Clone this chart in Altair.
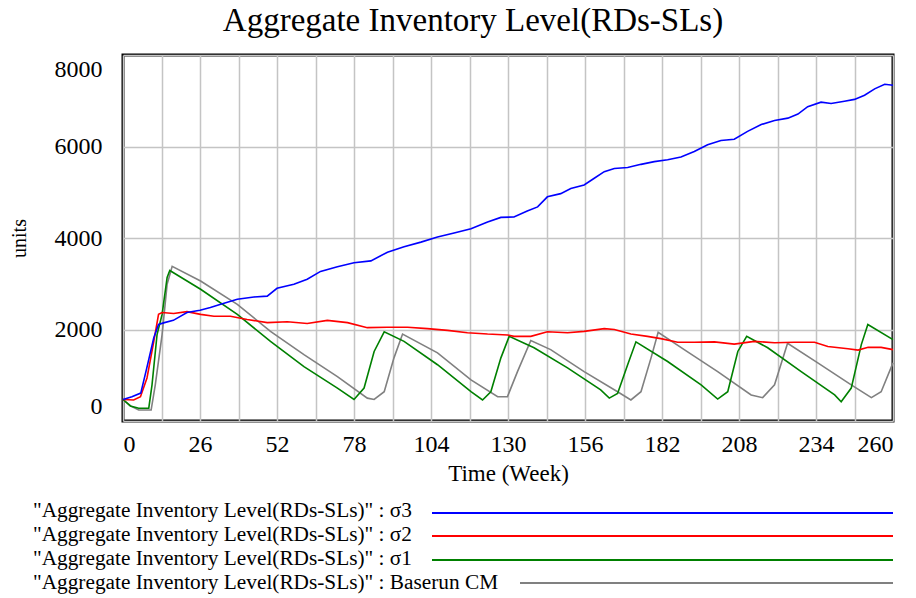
import altair as alt
import pandas as pd

# ---------------- data ----------------
chart_title = "Aggregate Inventory Level(RDs-SLs)"
series_names = ["σ3", "σ2", "σ1", "Baserun CM"]
series_colors = ["#0000ff", "#ff0000", "#008000", "#808080"]
legend_labels = ['"Aggregate Inventory Level(RDs-SLs)" : ' + s for s in series_names]

s3_week = [0, 3, 6, 8, 10.4, 12, 14, 17, 21.6, 26, 29.5, 33, 38.6, 44.2, 48.7, 52, 57.7, 62.2, 66.7, 72.4,
           78, 83.7, 89.3, 94.9, 100.6, 106.2, 111.8, 117.5, 123.1, 127.6, 132, 136.5, 140, 143.3, 147.8,
           151.2, 155.7, 159, 162.5, 165.9, 170.4, 174.9, 179.4, 183.9, 188.4, 192.9, 197.4, 201.9, 206.4,
           210.9, 215.5, 220, 224.5, 227.9, 231.2, 235.7, 239.1, 243.6, 247, 250.4, 253.8, 257.2, 260]
s3_units = [470, 530, 610, 1150, 1820, 2110, 2150, 2200, 2370, 2420, 2480, 2550, 2660, 2710, 2730, 2900,
            2990, 3100, 3270, 3370, 3460, 3500, 3690, 3810, 3910, 4020, 4110, 4200, 4350, 4450, 4460, 4590,
            4680, 4900, 4970, 5080, 5160, 5300, 5450, 5520, 5540, 5610, 5670, 5710, 5770, 5890, 6040, 6130,
            6160, 6330, 6480, 6570, 6620, 6710, 6870, 6970, 6940, 6990, 7030, 7120, 7260, 7360, 7340]

s2_week = [0, 3.6, 5.9, 8.1, 10.4, 12, 13.2, 17.1, 21.6, 26.2, 30.7, 36.3, 41.9, 48.7, 55.5, 62.2, 69, 75.8,
           82.5, 89.3, 96.1, 102.8, 109.6, 116.3, 123.1, 129.9, 132, 137.7, 143.3, 150.1, 155.7, 162.5,
           165.9, 171.5, 177.1, 181.6, 187.3, 192.9, 199.7, 206.4, 213.2, 220, 226.7, 233.5, 238, 244.8,
           248.2, 251.6, 256, 260]
s2_units = [470, 460, 530, 940, 1740, 2330, 2370, 2350, 2390, 2330, 2290, 2290, 2220, 2150, 2170, 2130,
            2200, 2150, 2040, 2050, 2050, 2020, 1980, 1930, 1900, 1880, 1850, 1850, 1950, 1930, 1960, 2020,
            2000, 1900, 1850, 1800, 1720, 1720, 1730, 1680, 1740, 1710, 1720, 1720, 1630, 1580, 1550, 1610,
            1610, 1560]

s1_week = [0, 2.5, 5.3, 8.7, 9.8, 11.5, 13.2, 14.9, 15.8, 26.2, 38.6, 49.8, 61.1, 72.4, 78, 81.4, 84.8,
           88.2, 94.9, 106.2, 117.5, 121.4, 124.2, 127.6, 130.4, 138.8, 150.1, 161.3, 164.2, 167, 170.4,
           173.2, 183.9, 195.2, 200.8, 204.2, 207.6, 210.6, 217.7, 229, 240.3, 242.5, 245.9, 249.3, 251.5, 260]
s1_units = [470, 330, 280, 280, 790, 1890, 2330, 3140, 3290, 2880, 2330, 1740, 1190, 720, 470, 720, 1520,
            1950, 1740, 1230, 640, 460, 640, 1380, 1850, 1600, 1160, 680, 500, 600, 1230, 1730, 1300, 790,
            480, 640, 1520, 1850, 1600, 1080, 570, 420, 720, 1670, 2110, 1780]

base_week = [0, 2.5, 5.3, 9.5, 10.9, 13.2, 14.9, 16.6, 26.2, 38.6, 49.8, 61.1, 72.4, 82.5, 84.8, 88.2,
             91.5, 94.4, 106.2, 117.5, 126.5, 129.8, 133.2, 137.7, 144.4, 155.7, 167, 171.5, 174.9, 178.3,
             180.7, 189.5, 200.8, 212.1, 216, 220, 224.4, 234.6, 245.9, 252.7, 256, 260]
base_units = [470, 330, 240, 240, 790, 1890, 2990, 3380, 3060, 2550, 1960, 1450, 970, 500, 470, 640, 1380,
              1900, 1490, 900, 530, 530, 1080, 1760, 1560, 1080, 640, 460, 640, 1380, 1940, 1560, 1080,
              570, 510, 790, 1700, 1270, 790, 510, 640, 1270]

x_grid_ticks = list(range(0, 261, 13))
y_ticks = [0, 2000, 4000, 6000, 8000]

# ---------------- build table ----------------
frames = []
for name, wk, un in [("Baserun CM", base_week, base_units), ("σ1", s1_week, s1_units),
                     ("σ2", s2_week, s2_units), ("σ3", s3_week, s3_units)]:
    frames.append(pd.DataFrame({"series": name, "week": wk, "units": un}))
df = pd.concat(frames, ignore_index=True)

FONT = "Liberation Serif"
W, H = 770, 366

lines = alt.Chart(df).mark_line(strokeWidth=1.6).encode(
    x=alt.X("week:Q", scale=alt.Scale(domain=[0, 260], nice=False, zero=False),
            axis=alt.Axis(values=x_grid_ticks, title="Time (Week)", format="d",
                          labelExpr="datum.value % 26 == 0 ? datum.label : ''",
                          labelPadding=11, titlePadding=6, titleFontSize=23)),
    y=alt.Y("units:Q", scale=alt.Scale(domain=[0, 8000], nice=False),
            axis=alt.Axis(values=y_ticks, title="units", format="d", labelFlush=True, labelFlushOffset=-2.5,
                          labelPadding=21, titlePadding=25, titleFontSize=20)),
    color=alt.Color("series:N", scale=alt.Scale(domain=series_names, range=series_colors), legend=None),
    order=alt.Order("week:Q"),
)

title_layer = alt.Chart(pd.DataFrame({"label": [chart_title]})).mark_text(
    align="center", baseline="alphabetic", font=FONT, fontSize=33, color="black"
).encode(x=alt.value(350), y=alt.value(-24), text="label:N")

legend_layers = []
row_text_y = [462, 486, 510, 534]
row_line_y = [458, 481, 505, 528]
line_start = [309, 309, 309, 397]
for i, lbl in enumerate(legend_labels):
    legend_layers.append(
        alt.Chart(pd.DataFrame({"label": [lbl]})).mark_text(
            align="left", baseline="alphabetic", font=FONT, fontSize=21.3, color="black"
        ).encode(x=alt.value(-90), y=alt.value(row_text_y[i]), text="label:N")
    )
    legend_layers.append(
        alt.Chart(pd.DataFrame({"label": [lbl]})).mark_rule(strokeWidth=2, color=series_colors[i]).encode(
            x=alt.value(line_start[i]), x2=alt.value(W), y=alt.value(row_line_y[i])
        )
    )

chart = alt.layer(lines, title_layer, *legend_layers).properties(
    width=W, height=H,
    autosize=alt.AutoSizeParams(type="none"),
    padding={"left": 115, "top": 47, "right": 15, "bottom": 175},
).configure_view(stroke="black", strokeWidth=3).configure_axis(
    domain=False, ticks=False, tickSize=0, grid=True, gridColor="#c4c4c4", gridWidth=1.5,
    labelFont=FONT, labelFontSize=24, labelColor="black",
    titleFont=FONT, titleFontWeight="normal", titleColor="black",
)

chart.save("out.html", embed_options={"renderer": "svg", "actions": False})
